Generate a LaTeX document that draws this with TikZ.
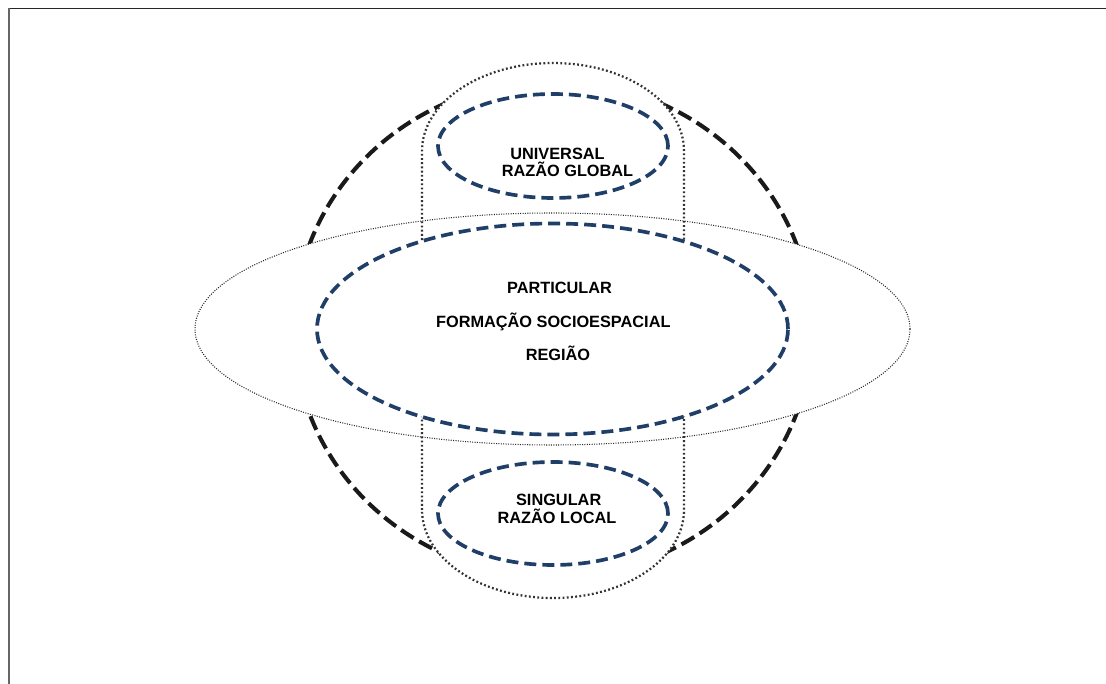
\documentclass[tikz,border=0pt]{standalone}
\usepackage{fontspec}
\setmainfont{Liberation Sans}
\usepackage{xcolor}
\usepackage{tikz}
\definecolor{navy}{HTML}{1F3E68}
\definecolor{ink}{HTML}{1A1A1A}

\begin{document}
\begin{tikzpicture}[x=0.025cm,y=0.025cm,
    outer/.style={draw=ink,line width=2.9pt,dash pattern=on 10.5pt off 4.5pt},
    inner/.style={draw=navy,line width=2.6pt,dash pattern=on 8.5pt off 4.3pt,fill=white},
    capsule/.style={draw=black!80,line width=1.6pt,dash pattern=on 1.3pt off 1.7pt},
    belt/.style={draw=black!85,line width=0.75pt,dash pattern=on 0.7pt off 1pt},
    label/.style={font=\fontsize{11.6}{13}\selectfont\bfseries,anchor=base,inner sep=0pt}]
      \useasboundingbox (0,0) rectangle (1106,684);
      \draw[black!85,line width=1.1pt] (9,675.5) -- (1106,675.5);
      \draw[black!60,line width=1.4pt] (9,675.5) -- (9,0);
      \draw[outer] (553,355) ellipse [x radius=259,y radius=248];
      \fill[white] (422,174) -- (422,533) arc[start angle=180,end angle=0,x radius=131,y radius=88] -- (684,174) arc[start angle=0,end angle=-180,x radius=131,y radius=88] -- cycle;
      \fill[white] (552.5,355) ellipse [x radius=357.5,y radius=116];
      \draw[capsule] (422,174) -- (422,533) arc[start angle=180,end angle=0,x radius=131,y radius=88] -- (684,174) arc[start angle=0,end angle=-180,x radius=131,y radius=88] -- cycle;
      \draw[belt] (552.5,355) ellipse [x radius=357.5,y radius=116];
      \draw[inner] (552.5,355) ellipse [x radius=235.5,y radius=105.5];
      \draw[inner] (553,538) ellipse [x radius=115,y radius=52];
      \draw[inner] (553,170.5) ellipse [x radius=115,y radius=51.5];
      \node[label] (universal) at(557.5,524.5){UNIVERSAL};
      \node[label] (global)    at(567.5,507){RAZÃO GLOBAL};
      \node[label] (particular) at(559.5,390.7){PARTICULAR};
      \node[label] (formacao)  at(553.3,356.7){FORMAÇÃO SOCIOESPACIAL};
      \node[label] (regiao)    at(558,323.3){REGIÃO};
      \node[label] (singular)  at(558.7,178){SINGULAR};
      \node[label] (local)     at(557,160){RAZÃO LOCAL};
\end{tikzpicture}
\end{document}
